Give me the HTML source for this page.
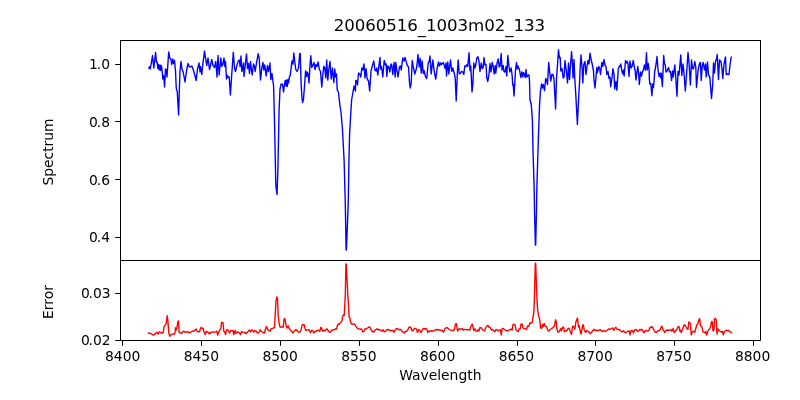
<!DOCTYPE html>
<html><head><meta charset="utf-8"><title>20060516_1003m02_133</title>
<style>html,body{margin:0;padding:0;background:#fff}body{width:800px;height:400px;overflow:hidden}</style></head>
<body>
<svg width="800" height="400" viewBox="0 0 800 400" style="display:block">
<rect width="800" height="400" fill="#fff"/>
<defs><clipPath id="c1"><rect x="120.5" y="40.5" width="640.0" height="220.0"/></clipPath><clipPath id="c2"><rect x="120.5" y="260.5" width="640.0" height="80.0"/></clipPath></defs>
<path d="M148.8 68 L149.7 66.5 L150.3 69 L152.5 55.5 L153.8 68 L155.6 52.5 L156.5 62.5 L157.2 62 L157.8 68.5 L158.5 64.5 L159.2 70 L160 65 L160.5 70.5 L161.2 65.5 L162 69 L162.8 79 L163.7 75.5 L164.6 87 L165.5 69 L166.2 69.5 L167 77 L168.7 52 L169.8 58 L171 59.5 L171.8 64.5 L172.8 59 L173.5 63.5 L174.5 60.5 L175.5 71 L176.2 87 L176.6 90 L177.2 91 L178.6 115 L179.5 85 L180 71 L181 61.5 L182 69 L183.2 72 L185 82 L186.5 71 L188 63.5 L189.2 66.5 L190.5 67 L191.8 66 L193 69 L194.8 75 L196.2 80.5 L197.5 69 L199 63 L200 72 L200.5 66.5 L201.8 74.5 L202.5 67 L204.5 51 L205.5 58 L206.8 65.5 L208 58 L209.5 69.5 L210.2 66.5 L211.8 59.5 L213 65.5 L214.5 67.5 L215.8 61.5 L217 77 L218 55.5 L219.2 75 L220.8 58 L221.8 66.5 L222.8 64.5 L224 58 L224.8 66.5 L225.5 61.5 L226.5 79 L227.5 75.5 L228.5 77.5 L229.2 77 L230.4 95 L231.5 78 L233.3 52.2 L234.5 68 L235.5 71.5 L237 65 L238.5 60.5 L239.5 60 L240 66.5 L241 56 L241.8 71.5 L242.5 69 L243.5 63 L244 76.5 L245 67.5 L246.5 54 L247.5 68.5 L248.5 63.5 L249.5 73.5 L250.5 61.5 L251.5 70 L252.2 75 L253.5 64 L254.5 66.5 L255.2 71.5 L256.5 63 L258.2 53.8 L259.2 58 L260.5 80 L261.8 68 L263 62.5 L263.8 70 L264.8 65 L266.2 76 L267.5 65.5 L268.5 71.5 L270 63 L270.8 79.5 L272 73.5 L273 82 L273.6 86 L274.6 125 L275.8 185 L276.4 190 L277 194.5 L277.9 170 L279.1 110 L280 89 L281.2 84 L282.5 84.5 L283.6 92 L284.4 85 L285.2 80.5 L285.9 86 L286.6 80 L287.3 86.5 L288 79.5 L288.6 83 L289.5 76.5 L290.2 75.5 L292 61 L293 64 L293.8 53 L295 63.5 L295.8 69.5 L297 71.5 L298.5 68 L299.7 53.5 L300.2 53.5 L301.2 86 L302 98 L302.6 102.5 L303.5 99 L304.5 86 L305.6 71 L306.5 76.5 L307.2 72 L308 74 L309 83 L310 65 L310.8 55.8 L311.8 67.5 L312.8 65.5 L314 62.5 L315 69.5 L316 64.5 L317 66.5 L318.2 62 L319.2 69 L320.5 71.5 L321.8 87 L322.5 78 L323.7 66.5 L324.7 67.5 L325.8 78 L326.7 60 L327.8 80 L329 68 L330 61.5 L331.2 79 L332.5 68 L333.8 82.5 L334.8 69 L335.5 77 L336.5 74 L337.2 90 L338.4 92 L340 106 L341 112 L342.4 128 L344.1 160 L345.2 200 L345.5 215 L346.1 250 L346.4 250 L347.8 215 L348.3 200 L348.95 160 L349.6 134 L350.6 116 L351.6 100 L353 92 L354 86 L355.4 91 L355.8 80.5 L356.8 81 L357.5 85 L358.5 73 L359.8 74 L360.8 77 L361.8 68 L362.8 70 L364 64 L365 78 L366 68.5 L367.2 79 L368.5 81 L369.7 91 L371 71 L372.5 65.5 L373.8 61 L375 70.5 L376 71 L376.8 68 L377.8 75 L379 65 L380 57.5 L380.5 69 L381.5 66.5 L382.8 77 L384.2 60.5 L385.5 65 L386.2 64 L386.8 76.5 L387.8 66 L388.8 66.5 L389.8 72 L391 64 L391.8 65 L392.8 74.5 L394 62.5 L395.2 77 L395.8 62.5 L397 71 L398 77 L399.5 67 L400.5 66 L401.2 70 L402.8 58 L404 61 L405 57.5 L406.2 62 L407.5 66 L408.5 66.5 L409.5 83 L410.3 88 L411.2 83 L412.2 60.5 L413.5 68 L414.8 74 L416 70 L417 65 L418 54.5 L419.2 67 L420.2 58.5 L421.2 73 L422.2 61 L423.2 73.5 L424 70.5 L425.5 76.5 L426.8 78.5 L428.2 63 L429 62 L430 56 L431.2 74 L432.8 60 L434.5 73 L435.8 79 L437.2 68 L438.5 62 L439.5 66 L440.5 63 L441.5 64.5 L443.2 62.5 L444 64.5 L445.2 68.5 L446 63 L446.5 76 L447.8 62 L448.8 74 L450.5 60 L451.8 71.5 L452.8 68 L454.2 73 L455.2 78 L456.2 101 L457.5 70 L458.2 60 L459.2 73.5 L460 74 L461.5 71.5 L462.8 72 L463.8 74.5 L464.8 66 L466 66.5 L467 64.5 L467.8 66.5 L469 52.8 L470 70.5 L470.8 66 L472 92 L472.8 85 L473.8 63 L474.8 68 L475.8 65 L476.8 58 L478 56.8 L479 61.5 L480 71.5 L481.2 63 L482.2 68.5 L483.2 67.5 L484 57.5 L485 65 L486 64.5 L486.8 78 L487.8 81.5 L489 74 L490 63.5 L491 72 L492.2 62.5 L493.2 66.5 L494.2 74 L495.2 65.5 L495.8 73 L497 63.5 L498.2 59 L499.2 67 L500 66.5 L501.2 53.5 L502 70 L503.2 65.5 L504 71.5 L505.2 72 L506 66.5 L506.8 76 L507.8 55.5 L508.8 65 L509.8 72 L511.2 68 L512.2 76 L512.7 85 L513.2 84 L514 96 L514.8 83 L515.5 70 L516.5 62.5 L517.2 69 L518 66 L519.5 70 L520.8 77.5 L521.8 72 L522.8 77 L523.5 72.5 L524.5 74.5 L525.2 77.5 L526 69.5 L526.8 77 L527.8 75.5 L529 75 L529.5 81 L530 100 L531.2 104 L532.4 120 L533 150 L534.2 190 L534.5 210 L535.4 245 L535.7 245 L536.5 210 L536.8 190 L538 150 L538.6 132 L539.6 104 L540.4 92 L541.5 84 L542.3 88 L543.2 84.5 L544.5 90.5 L545.7 78.5 L546.6 80 L547.5 84.5 L548.7 62.5 L550 75 L550.8 81 L551.8 74.5 L553 74.5 L554 79.5 L555.6 109 L556.5 78 L557.5 65 L558.5 49.8 L559.5 58 L560.2 57.5 L560.8 71 L562 68.5 L563.2 78 L564 77.5 L565 60.5 L566.2 70 L567.5 83 L568.5 63 L569.5 79.5 L570.5 65 L571.6 51.8 L572.5 65 L573 78 L574 59.5 L574.8 79 L575.8 95 L577.4 124.4 L578.8 95 L579.8 78 L580 70 L581 55 L582 66.5 L582.8 83 L583.8 64.5 L585 61.5 L586 74.5 L587 66.5 L588 60.5 L589 64 L590 53.2 L591.2 60 L592.2 64 L593.5 71 L594 80 L595 88 L596 77 L596.8 67.5 L597.5 72.5 L598.8 66.5 L599.8 69 L600.5 74.5 L601.8 62.5 L602.8 66.5 L604 59.5 L605 65.5 L606 66.5 L606.8 74.5 L608 71.5 L609 78.5 L610 77 L610.7 86.7 L612 78 L612.9 68.7 L614 74 L614.7 89 L615.9 81.5 L616.9 90.1 L618.3 68.7 L619.5 66 L620 66.5 L620.8 64 L621.8 71 L622.8 74 L623.5 70 L624.2 76 L625.5 60.5 L626.5 63 L627.2 61.5 L628 64 L629 76.5 L630 61 L631.2 68 L632.2 66 L633.3 60.5 L634.2 66.5 L635.2 71 L636 80 L637 72 L637.8 66.5 L638.8 75 L639.3 84.5 L640.5 72 L641.5 76 L642.5 71.5 L643.5 70 L644.3 65 L645.5 70 L646.5 52.8 L647.2 70 L648.3 63.5 L649.2 71 L649.3 78 L649.8 84 L650.8 83.5 L651.9 95.7 L652.7 84 L653.5 87.5 L654.3 78 L654.6 72 L655.8 66 L657 56.5 L658 69.5 L659 76.5 L659.8 73.5 L660.8 78 L661.2 73 L662.4 86.5 L663.7 55.5 L664.5 64 L665.2 64.5 L666 72 L667 71 L668.5 67.5 L669.5 72 L670.5 71.5 L671.6 80.5 L672.5 71 L673.2 77 L674.8 65 L675.8 78 L677 96.2 L678 71.5 L679 75 L680.8 55 L681.8 75.5 L683 64 L684 73 L685.3 91 L686.5 75 L688 52.5 L689 63 L690.4 85 L691.5 60 L692.5 68.5 L693.5 69 L694.8 61.5 L695.8 67 L696.5 87.5 L698 71 L699.5 63.5 L700.5 62.5 L701.2 80.5 L702.2 66.5 L703.2 62.5 L704.5 70 L705.5 64 L706.2 77 L707.5 62 L708.5 75 L709.8 77 L711.5 98.5 L712.7 85 L713.5 63 L714.5 73 L715.5 61.5 L716.5 59 L717.2 54.5 L718.5 79.5 L719.5 60 L721 61.5 L722 69.5 L722.8 78.5 L724 64 L725.5 57 L726.2 74.5 L727.5 74 L729 74.5 L730 65 L731.2 57.2" fill="none" stroke="#0000ff" stroke-width="1.39" stroke-linejoin="round" stroke-linecap="square" clip-path="url(#c1)"/>
<path d="M148.5 333.2 L150 333.2 L151.5 334 L152.8 335 L154.5 334.5 L156 333 L156.8 332.2 L157.5 333.5 L158.2 334 L159.2 331.8 L160.5 332.5 L161.8 333 L163.2 332.5 L164.2 326 L165.5 325 L166.2 323.5 L167.2 315.8 L168 322 L168.8 333 L169.8 336.2 L171 335 L172 334.2 L173.5 334 L174.8 334 L175.5 327.8 L176.2 330 L177 327.5 L177.8 322 L178.5 321 L179.2 332.5 L180.5 333.2 L181.5 333.5 L182.5 332 L183.5 331.2 L185 332.2 L186.5 331.8 L188 332 L189.8 332.8 L191.2 331.8 L192.5 331.2 L194 331 L195.5 329.5 L196.2 329 L197.2 331.2 L198.5 331.8 L199.5 331.8 L200.5 328.5 L201.5 327.2 L202.5 329 L203.2 328.5 L204 332 L205.2 334.5 L206.2 331.2 L207.2 332 L208.5 332.5 L209.5 334 L210.5 332.5 L211.8 332.2 L213 331.8 L214.5 332.2 L215.8 331.8 L216.8 331.2 L217.8 335 L218.8 331.8 L219.8 330 L220.8 329 L221.5 322.5 L223 322.8 L223.8 331 L224.8 332.5 L225.5 334.5 L226.5 330 L227.5 329.8 L228.5 330.8 L229.5 333 L230.8 330.5 L232 330.8 L233 330.5 L233.8 334.5 L235 330.5 L235.8 333.5 L237 332.2 L238 331.8 L239.2 332.8 L240.5 334.5 L241.5 331.5 L242.8 332.2 L244 332.5 L245.2 332.5 L246.2 333.8 L247.5 332 L248.5 331.2 L249.5 330 L250.5 332 L251.8 330 L252.8 330.2 L253.8 332.2 L255.2 330.5 L256.2 331 L257.2 332.8 L258.8 332.8 L260.2 329.8 L261.5 331.5 L263 332.5 L264.5 333 L265.5 329 L266.5 326.5 L267.5 329 L268.5 330.2 L270 331.2 L271.2 328.8 L272.5 328.5 L273.5 327.8 L274.5 327.5 L275.2 315 L276 301 L276.8 297 L277.5 299 L278.2 315 L279 323 L280 327 L281.2 327.2 L282.2 326.5 L283.2 327.2 L284 319 L284.8 318.5 L285.8 324 L286.8 328 L288.2 325.8 L289.2 328.8 L290.5 330 L291.5 331 L293 333 L294.2 331 L295.5 329.8 L296.8 330 L298 331.5 L299 332.2 L300 332 L301 330 L302.2 324.8 L304.2 324.8 L305.5 330.2 L306.8 330.2 L308 329.8 L309.2 329.8 L310.5 332.8 L311.8 330.2 L312.8 330.8 L313.8 333 L315.2 331.5 L316.5 331 L317.8 330.5 L318.8 330.2 L319.8 331.2 L320.8 327.5 L321.5 327.8 L322.5 331.2 L323.8 330.2 L325 330.8 L326.2 329.5 L327 328.8 L328 330.5 L329.2 332.2 L330.5 332 L331.8 330.2 L333 330 L334.2 329.8 L335.5 328.8 L336.5 329 L337.8 324.2 L339.2 324.2 L340.2 323 L341.2 322.2 L342 320.5 L342.8 316 L343.5 315 L344.2 315.5 L344.8 305 L345.3 295 L345.9 264 L346.3 264 L347.8 295 L348.5 305 L349.2 317.5 L350 318.2 L350.5 322 L351.5 324 L352.8 324.2 L354 323.8 L355.2 325 L356.5 327.5 L357.8 328.5 L359.2 329 L360.5 329.2 L361.5 329 L362.8 332 L364 331.2 L365 329 L366.2 328.8 L367.5 328 L368.8 327 L370 327.2 L371.2 330 L372.2 331.5 L373.8 332 L375 330.2 L376.5 329 L377.8 329.2 L379 330 L380 329.8 L381.2 330.2 L382.2 331.2 L383.2 329.8 L384.2 331.8 L385.5 331.2 L386.8 329.8 L388 329.5 L389.2 329.8 L390.2 330.8 L391.5 330.5 L392.8 330.5 L394 332.2 L395.2 330 L396.2 328.8 L397.5 328.5 L398.8 329.8 L400 329.5 L401.2 329.8 L402.2 331.8 L403.2 332 L404.2 333 L405.5 331.5 L406.8 331.2 L408 329.5 L409 327.2 L410.2 327 L411.2 328.2 L412 330.8 L413.2 330.5 L414.2 328.8 L415.5 328.5 L416.5 329 L417.5 332.5 L418.8 329.5 L419.8 330 L421 332.5 L422.2 330.5 L423.2 328.5 L424.5 329 L425.8 328.5 L426.8 329 L427.8 332.5 L429 331.2 L430.5 331 L432 330.8 L433.2 331.2 L434.5 330.5 L435.8 329.5 L437 330 L438.2 329.5 L439.5 330 L441 330.2 L442.2 330.5 L443.5 332.2 L444.8 329 L446 327.8 L447 327.5 L448.2 328.5 L449.5 329.8 L450.8 330.2 L452 330.5 L453.5 330.5 L454.5 329 L455.5 324 L456.5 323.8 L457.5 331 L458.5 329.5 L459.5 328.5 L460 329 L461.2 329.2 L462.2 328.5 L463.2 330.2 L464.5 329.5 L466 329.5 L467.5 329.8 L468.8 329.8 L469.8 330 L470.8 326.5 L472.2 324.2 L473 327 L473.8 330.5 L474.8 328.8 L475.8 331 L477 331.2 L478 329.8 L478.8 331.2 L479.8 327.8 L481 327.8 L482.2 329.2 L483.5 330.5 L484.5 331 L485.5 328 L486.8 325.8 L488 325.5 L489 327 L490.2 327.5 L491.2 329.8 L492.5 329.5 L493.5 330.5 L494.8 331.8 L496 329.5 L497.2 330 L498.2 331 L499.5 330 L500.5 330 L501.2 335 L502.2 328.5 L503.2 328.5 L504.5 329.5 L505.8 330.5 L507 330.8 L508.5 330.5 L510 329.5 L511.5 329.2 L512.2 330 L512.8 325 L514 324.2 L515.2 325 L516 330 L517.2 330.8 L518.2 331.5 L519 329 L520.2 329 L521 324.2 L522 324 L523 328 L524.5 328.8 L525.8 329 L526.5 329.5 L527.5 326 L528.8 326.2 L530 322.8 L531.5 323 L532.2 322.5 L533 317 L533.8 313 L534.4 298 L535.3 263.2 L535.7 263.2 L536.9 298 L537.5 308 L538.5 316 L539.5 318 L540.2 324 L540.5 328 L541.5 328.5 L542.5 324.5 L543.2 326.8 L544.2 323.5 L545.2 326.2 L546.5 326.5 L547.5 329.5 L548.5 331.2 L549.8 329.8 L551 329 L552.2 328.2 L553.5 327 L554.5 325.8 L555.5 319.8 L556.2 321.5 L556.8 328.5 L557.8 332 L559 331.8 L560 330 L560.8 328.5 L561.5 331 L562.8 327 L563.8 327.5 L564.5 331.8 L565.8 330.8 L567 330.8 L568.2 328.2 L569.2 328.5 L570 331 L571.5 334.5 L572.5 326.5 L573.5 326.2 L574.8 329.5 L575.8 322.5 L576.8 319.5 L577.5 318.2 L578.5 327 L579.2 325.8 L580 330 L581 334.2 L582 329 L582.8 324.8 L583.5 325.5 L584.2 330 L585.5 332.5 L586.8 330.5 L588 331.5 L589.2 332 L590.2 333.8 L591.5 332.5 L592.5 331 L594 329.2 L595.2 330.5 L596.5 330.2 L597.8 330.5 L599 330.5 L600.2 329.5 L601.5 331 L602.8 331.5 L604 330.5 L605.5 331.5 L606.8 330.5 L608 329.5 L609.2 329 L610.5 329.2 L611.8 328.5 L612.5 328 L613.8 330.5 L615 327.8 L616 327.5 L617.2 329.5 L618.5 329.5 L620 330 L621.2 331.2 L622.2 332 L623.5 330.8 L624.5 332 L625.5 332.8 L626.8 332 L628 331.2 L629.2 331 L630 334.8 L631.2 330.5 L632.5 330.8 L633.5 333 L634.5 330 L635.8 329.8 L636.5 329.5 L637.5 331.5 L638.8 330.8 L639.8 329.5 L641 330 L642 329.2 L643.2 331.8 L643.8 332.8 L645 330.8 L646.2 330.5 L647.5 331.2 L648.8 330.8 L649.8 327.5 L651 327.5 L651.8 326.5 L653 328 L654.2 330.5 L655.2 332.2 L656.5 332.2 L657.8 330.8 L659 330.5 L660.2 329.8 L661.2 327.2 L662 326.2 L662.8 329 L663.8 331 L664.8 332.5 L666 330.5 L667.2 330 L668.5 330.2 L669.8 330.2 L670.8 329.5 L671.8 331.2 L673.2 328.5 L674.2 332.5 L675.5 331 L676.8 329.5 L677.8 327 L679 326.5 L679.8 331 L680 329.5 L681.2 332.5 L682.5 330 L683.8 325.2 L685 325 L686 326.8 L687 328.8 L688 329.2 L688.8 322 L689.8 322.5 L690.5 324 L691.2 335 L692.2 332 L693.5 331.2 L694.8 332.2 L695.8 328.5 L696.8 324.8 L697.8 324 L698.8 320 L699.6 318.5 L700.5 325.5 L701.5 326.8 L702.2 327.5 L702.8 331.8 L704 332.2 L705 333 L705.8 331.5 L706.8 335 L707.5 331.8 L708.5 330 L709.5 329 L710.5 327 L711.5 321.8 L712.2 321.5 L713 331 L714 329.5 L714.5 318.8 L715.2 318.5 L716.2 319.5 L717 334 L718 329 L719.2 330.5 L720.2 331.5 L721.5 332.2 L722.5 331.2 L723.2 334.8 L724.2 332 L725.5 330.8 L726.5 330.2 L727.8 330.8 L729 330.5 L730 331.8 L731.5 332.5" fill="none" stroke="#ff0000" stroke-width="1.39" stroke-linejoin="round" stroke-linecap="square" clip-path="url(#c2)"/>
<path d="M122.5 340.5 v5.3 M201.5 340.5 v5.3 M280.5 340.5 v5.3 M359.5 340.5 v5.3 M438.5 340.5 v5.3 M517.5 340.5 v5.3 M595.5 340.5 v5.3 M674.5 340.5 v5.3 M753.5 340.5 v5.3 M120.5 64.5 h-5.3 M120.5 121.5 h-5.3 M120.5 179.5 h-5.3 M120.5 237.5 h-5.3 M120.5 293.5 h-5.3 M120.5 340.5 h-5.3" stroke="#000" stroke-width="1.0" fill="none"/>
<rect x="120.5" y="40.5" width="640.0" height="220.0" fill="none" stroke="#000" stroke-width="1.0"/>
<path d="M120.5 260.5 V340.5 H760.5 V260.5" fill="none" stroke="#000" stroke-width="1.0"/>
<g font-family='"DejaVu Sans", "Liberation Sans", sans-serif' font-size="13.89px" fill="#000">
<text x="122.65" y="361.3" text-anchor="middle">8400</text>
<text x="201.39" y="361.3" text-anchor="middle">8450</text>
<text x="280.13" y="361.3" text-anchor="middle">8500</text>
<text x="358.87" y="361.3" text-anchor="middle">8550</text>
<text x="437.61" y="361.3" text-anchor="middle">8600</text>
<text x="516.35" y="361.3" text-anchor="middle">8650</text>
<text x="595.09" y="361.3" text-anchor="middle">8700</text>
<text x="673.83" y="361.3" text-anchor="middle">8750</text>
<text x="752.57" y="361.3" text-anchor="middle">8800</text>
<text x="110.1" y="68.8" text-anchor="end">1<tspan dx="-1.1">.0</tspan></text>
<text x="110.1" y="126.8" text-anchor="end">0<tspan dx="-1.1">.8</tspan></text>
<text x="110.1" y="184.8" text-anchor="end">0<tspan dx="-1.1">.6</tspan></text>
<text x="110.1" y="241.8" text-anchor="end">0<tspan dx="-1.1">.4</tspan></text>
<text x="110.7" y="297.8" text-anchor="end">0<tspan dx="-1.1">.03</tspan></text>
<text x="110.7" y="344.8" text-anchor="end">0<tspan dx="-1.1">.02</tspan></text>
<text x="440.3" y="379.5" text-anchor="middle">Wavelength</text>
<text transform="translate(53,152) rotate(-90)" text-anchor="middle">Spectrum</text>
<text transform="translate(53,302) rotate(-90)" text-anchor="middle">Error</text>
<text x="439.4" y="31.4" text-anchor="middle" font-size="16.67px" letter-spacing="-0.1">20060516<tspan dy="1.3">_</tspan><tspan dy="-1.3">1003m02</tspan><tspan dy="1.3">_</tspan><tspan dy="-1.3">133</tspan></text>
</g></svg>
</body></html>
